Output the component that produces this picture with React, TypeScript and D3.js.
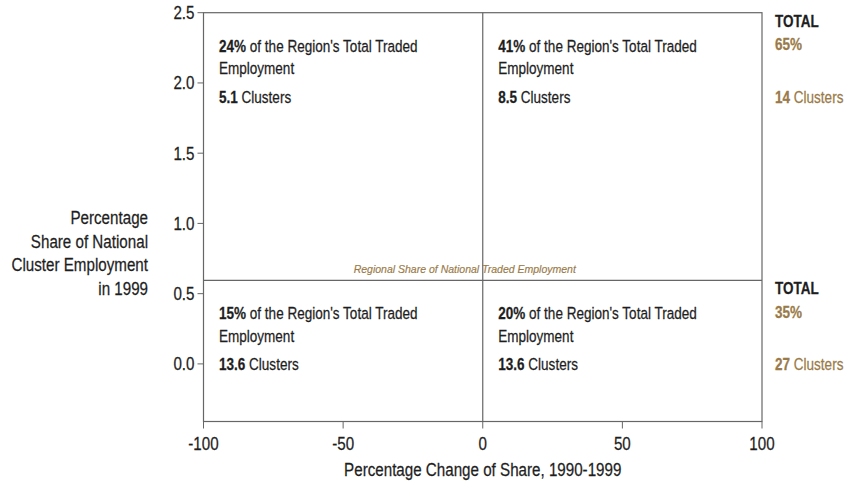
import React from "react";
import * as d3 from "d3";

const xTicks = [-100, -50, 0, 50, 100];
const yTicks = [0.0, 0.5, 1.0, 1.5, 2.0, 2.5];
const xDomain = [-100, 100];
const yDomain = [-0.41, 2.5];
const regionalShare = 0.595;

const quadrantNames = ["upperLeft", "upperRight", "lowerLeft", "lowerRight"];
const quadrantShares = ["24%", "41%", "15%", "20%"];
const quadrantClusters = ["5.1", "8.5", "13.6", "13.6"];
const totalShares = ["65%", "35%"];
const totalClusters = ["14", "27"];
const yTitleLines = ["Percentage", "Share of National", "Cluster Employment", "in 1999"];

const W = 845;
const H = 486;
const SANS = "'Liberation Sans', Arial, sans-serif";
const SQUEEZE = 0.82;
const BROWN = "#9a7a48";
const LINE = "#666";
const TEXT = "#1e1e1e";

type NProps = {
  x: number;
  y: number;
  size: number;
  anchor?: "start" | "middle" | "end";
  fill?: string;
  weight?: string;
  children: React.ReactNode;
};

function NText({ x, y, size, anchor = "start", fill = TEXT, weight = "normal", children }: NProps) {
  return (
    <text
      transform={`translate(${x},${y}) scale(${SQUEEZE},1)`}
      textAnchor={anchor}
      fontFamily={SANS}
      fontSize={size}
      fill={fill}
      stroke={fill}
      strokeWidth={0.25}
      fontWeight={weight}
    >
      {children}
    </text>
  );
}

export default function App() {
  const x = d3.scaleLinear().domain(xDomain).range([203.5, 762]);
  const y = d3.scaleLinear().domain(yDomain).range([421.5, 12.7]);
  const x0 = x(0);
  const yMid = y(regionalShare);
  const left = x(xDomain[0]);
  const right = x(xDomain[1]);
  const top = y(yDomain[1]);
  const bottom = y(yDomain[0]);

  const quadOrigin = (i: number) => {
    const qx = i % 2 === 0 ? left : x0;
    const qy = i < 2 ? top : yMid;
    return [qx + 15.5, qy];
  };

  return (
    <svg width={W} height={H} style={{ position: "absolute", left: 0, top: 0, background: "#fff" }}>
      <rect x={left} y={top} width={right - left} height={bottom - top} fill="none" stroke={LINE} strokeWidth={1.2} />
      <line x1={x0} x2={x0} y1={top} y2={bottom} stroke={LINE} strokeWidth={1.2} />
      <line x1={left} x2={right} y1={yMid} y2={yMid} stroke={LINE} strokeWidth={1.2} />

      {yTicks.map((t) => (
        <g key={"y" + t}>
          <line x1={left - 6} x2={left} y1={y(t)} y2={y(t)} stroke={LINE} strokeWidth={1} />
          <NText x={left - 9} y={y(t) + 6.5} size={18.5} anchor="end">
            {d3.format(".1f")(t)}
          </NText>
        </g>
      ))}

      {xTicks.map((t) => (
        <g key={"x" + t}>
          <line x1={x(t)} x2={x(t)} y1={bottom} y2={bottom + 7} stroke={LINE} strokeWidth={1} />
          <NText x={x(t)} y={bottom + 28} size={18.5} anchor="middle">
            {String(t)}
          </NText>
        </g>
      ))}

      <NText x={x0} y={bottom + 54} size={18.5} anchor="middle">
        Percentage Change of Share, 1990-1999
      </NText>
      {yTitleLines.map((s, i) => (
        <NText key={s} x={148} y={224 + i * 23.5} size={18.5} anchor="end">
          {s}
        </NText>
      ))}

      <text
        x={x0 - 18}
        y={yMid - 7.5}
        textAnchor="middle"
        fontFamily={SANS}
        fontStyle="italic"
        fontSize={10.5}
        fill={BROWN}
        stroke={BROWN}
        strokeWidth={0.15}
      >
        Regional Share of National Traded Employment
      </text>

      {quadrantNames.map((n, i) => {
        const [qx, qy] = quadOrigin(i);
        return (
          <g key={n}>
            <NText x={qx} y={qy + 39} size={16.5}>
              <tspan fontWeight="bold">{quadrantShares[i]}</tspan>
              <tspan> of the Region's Total Traded</tspan>
            </NText>
            <NText x={qx} y={qy + 61.5} size={16.5}>Employment</NText>
            <NText x={qx} y={qy + 90} size={16.5}>
              <tspan fontWeight="bold">{quadrantClusters[i]}</tspan>
              <tspan> Clusters</tspan>
            </NText>
          </g>
        );
      })}

      {totalShares.map((s, i) => {
        const qy = i === 0 ? top : yMid;
        const tx = right + 13;
        return (
          <g key={"t" + i}>
            <NText x={tx} y={qy + 14} size={16.5} weight="bold">TOTAL</NText>
            <NText x={tx} y={qy + 37.5} size={16.5} weight="bold" fill={BROWN}>{s}</NText>
            <NText x={tx} y={qy + 90} size={16.5} fill={BROWN}>
              <tspan fontWeight="bold">{totalClusters[i]}</tspan>
              <tspan> Clusters</tspan>
            </NText>
          </g>
        );
      })}
    </svg>
  );
}
